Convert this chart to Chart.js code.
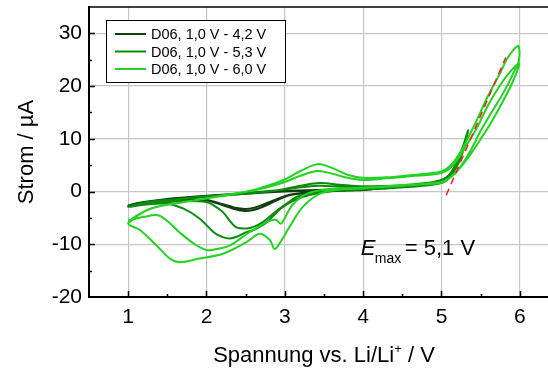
<!DOCTYPE html>
<html>
<head>
<meta charset="utf-8">
<script src="https://cdn.jsdelivr.net/npm/chart.js@4.4.0/dist/chart.umd.min.js"></script>
<style>
  body { margin: 0; background: #fff; }
</style>
</head>
<body>
<canvas id="cv" width="548" height="372"></canvas>
<script>
var xTicks = [1, 2, 3, 4, 5, 6];
var yTicks = [-20, -10, 0, 10, 20, 30];
var seriesLabels = ['D06, 1,0 V - 4,2 V', 'D06, 1,0 V - 5,3 V', 'D06, 1,0 V - 6,0 V'];
var seriesColors = ['#123f12', '#0c8a0c', '#22d322'];

// 1,0 V - 4,2 V, two cycles (potential in V, current in µA)
var u42 = [1.0, 1.2, 1.5, 2.0, 2.5, 3.0, 3.5, 4.0, 4.2,
  4.1, 3.8, 3.5, 3.25, 3.06, 2.89, 2.72, 2.6, 2.49, 2.35, 2.21, 2.0, 1.7, 1.4, 1.2, 1.0,
  1.2, 1.5, 2.0, 2.5, 3.0, 3.5, 4.0, 4.2,
  4.1, 3.8, 3.5, 3.25, 3.06, 2.89, 2.72, 2.6, 2.49, 2.35, 2.21, 2.0, 1.7, 1.4, 1.2, 1.0];
var i42 = [-2.6, -2.0, -1.5, -0.9, -0.4, 0.0, 0.3, 0.5, 0.8,
  0.4, 0.2, 0.0, -0.3, -0.7, -1.7, -2.9, -3.5, -3.7, -3.3, -2.6, -1.7, -1.7, -2.0, -2.3, -2.7,
  -2.0, -1.4, -0.8, -0.3, 0.1, 0.35, 0.55, 0.8,
  0.4, 0.2, 0.0, -0.2, -0.6, -1.5, -2.5, -3.1, -3.3, -3.0, -2.4, -1.6, -1.6, -1.9, -2.2, -2.6];

// 1,0 V - 5,3 V, two cycles
var u53 = [1.0, 1.2, 1.5, 2.0, 2.5, 2.8, 3.0, 3.2, 3.45, 3.7, 4.0, 4.5, 4.8, 5.0, 5.1, 5.2, 5.28, 5.34,
  5.3, 5.25, 5.18, 5.1, 5.0, 4.7, 4.3, 4.0, 3.6, 3.3, 3.1, 2.95, 2.77, 2.6, 2.51, 2.4, 2.3, 2.2, 2.1, 1.91, 1.7, 1.49, 1.2, 1.0,
  1.2, 1.5, 2.0, 2.5, 2.8, 3.0, 3.2, 3.45, 3.7, 4.0, 4.5, 4.8, 5.0, 5.1, 5.2, 5.27, 5.33,
  5.29, 5.23, 5.15, 5.05, 4.9, 4.5, 4.0, 3.6, 3.3, 3.15, 3.06, 2.9, 2.72, 2.6, 2.51, 2.38, 2.3, 2.21, 2.1, 2.0, 1.7, 1.4, 1.0];
var i53 = [-2.9, -2.2, -1.7, -1.0, -0.4, 0.0, 0.5, 1.1, 1.6, 1.3, 1.0, 1.2, 1.6, 2.2, 3.2, 5.8, 8.8, 11.6,
  9.0, 6.6, 4.3, 2.6, 1.6, 1.0, 0.6, 0.4, 0.1, -0.7, -1.8, -3.2, -5.8, -7.3, -7.7, -8.5, -8.9, -8.6, -7.8, -5.1, -3.2, -2.3, -2.5, -2.9,
  -2.1, -1.6, -0.9, -0.3, 0.1, 0.4, 0.8, 1.1, 0.9, 0.8, 1.0, 1.4, 2.0, 3.0, 5.3, 7.8, 10.6,
  8.3, 5.8, 3.6, 2.1, 1.4, 0.8, 0.4, 0.1, -0.4, -1.0, -1.9, -3.6, -5.8, -6.7, -7.0, -6.8, -5.6, -3.9, -2.7, -2.0, -1.8, -2.2, -2.8];

// 1,0 V - 6,0 V, two cycles
var u60 = [1.0, 1.15, 1.3, 1.5, 1.8, 2.0, 2.3, 2.6, 2.8, 3.0, 3.2, 3.42, 3.6, 3.8, 4.0, 4.3, 4.6, 4.8, 5.0, 5.12, 5.23, 5.35, 5.45, 5.6, 5.75, 5.83, 5.9, 5.98,
  5.99, 5.92, 5.8, 5.66, 5.5, 5.38, 5.28, 5.18, 5.08, 4.98, 4.7, 4.3, 4.0, 3.7, 3.45, 3.23, 3.06, 2.96, 2.87, 2.81, 2.68, 2.51, 2.21, 1.91, 1.66, 1.53, 1.36, 1.15, 1.0,
  1.2, 1.4, 1.7, 2.0, 2.3, 2.6, 2.8, 3.0, 3.2, 3.42, 3.6, 3.8, 4.0, 4.3, 4.6, 5.0, 5.15, 5.3, 5.45, 5.6, 5.75, 5.88, 5.99,
  5.97, 5.9, 5.78, 5.63, 5.48, 5.35, 5.22, 5.1, 5.0, 4.8, 4.4, 4.0, 3.6, 3.3, 3.1, 3.0, 2.95, 2.89, 2.8, 2.65, 2.5, 2.3, 2.1, 2.0, 1.85, 1.66, 1.5, 1.38, 1.2, 1.0];
var i60 = [-6.0, -4.3, -3.2, -2.5, -1.8, -1.3, -0.6, 0.3, 1.2, 2.3, 3.9, 5.2, 4.5, 3.2, 2.6, 2.7, 3.1, 3.4, 3.8, 5.0, 7.2, 10.5, 13.5, 18.3, 22.5, 25.0, 26.5, 27.6,
  25.0, 22.5, 19.0, 15.5, 11.5, 8.0, 5.5, 3.5, 2.3, 1.6, 1.3, 0.9, 0.6, 0.4, -0.4, -2.9, -6.7, -9.2, -10.9, -9.2, -8.0, -9.6, -11.8, -12.7, -13.4, -12.7, -10.2, -7.3, -6.0,
  -3.8, -2.8, -2.0, -1.3, -0.5, 0.2, 0.9, 1.8, 3.0, 3.9, 3.4, 2.6, 2.2, 2.5, 2.9, 3.5, 5.0, 8.3, 12.0, 16.5, 20.2, 22.8, 24.3,
  23.0, 20.5, 17.0, 13.0, 9.5, 6.6, 4.2, 2.6, 1.8, 1.5, 1.1, 0.7, 0.5, -0.3, -2.5, -5.0, -6.1, -5.4, -5.6, -6.8, -8.2, -10.2, -11.0, -11.1, -10.0, -7.8, -5.6, -4.5, -4.8, -5.5];

// tangent for E_max
var tangentU = [5.06, 5.82];
var tangentI = [-0.7, 25.4];

var fontFamily = "'Liberation Sans', Arial, sans-serif";

function toPoints(u, cur) {
    return u.map(function (v, k) { return { x: v, y: cur[k] }; });
}

var overlay = {
    id: 'overlay',
    afterDraw: function (chart) {
        var ctx = chart.ctx;
        var a = chart.chartArea;
        var xs = chart.scales.x;
        var ys = chart.scales.y;
        ctx.save();
        ctx.strokeStyle = '#000';

        // top frame line
        ctx.lineWidth = 1.5;
        ctx.beginPath();
        ctx.moveTo(a.left, a.top);
        ctx.lineTo(a.right, a.top);
        ctx.stroke();

        // inward ticks
        ctx.lineWidth = 1.5;
        ctx.beginPath();
        for (var v = 1; v <= 6.01; v += 0.5) {
            var px = Math.round(xs.getPixelForValue(v)) + 0.5;
            var len = (Math.abs(v - Math.round(v)) < 0.01) ? 6 : 3;
            ctx.moveTo(px, a.bottom);
            ctx.lineTo(px, a.bottom - len);
        }
        for (var w = -15; w <= 30.01; w += 5) {
            var py = Math.round(ys.getPixelForValue(w)) + 0.5;
            var l2 = (w % 10 === 0) ? 6 : 3;
            ctx.moveTo(a.left, py);
            ctx.lineTo(a.left + l2, py);
        }
        ctx.stroke();

        // legend box
        var bx = a.left + 17, by = a.top + 13, bw = 179, bh = 62;
        ctx.fillStyle = '#fff';
        ctx.fillRect(bx, by, bw, bh);
        ctx.lineWidth = 1;
        ctx.strokeRect(bx + 0.5, by + 0.5, bw, bh);
        ctx.font = '14.5px ' + fontFamily;
        ctx.textBaseline = 'middle';
        ctx.textAlign = 'left';
        for (var k = 0; k < seriesLabels.length; k++) {
            var ry = by + 14 + k * 17.5;
            ctx.strokeStyle = seriesColors[k];
            ctx.lineWidth = 2;
            ctx.beginPath();
            ctx.moveTo(bx + 9, ry);
            ctx.lineTo(bx + 40, ry);
            ctx.stroke();
            ctx.fillStyle = '#000';
            ctx.fillText(seriesLabels[k], bx + 45, ry + 1);
        }

        // E_max annotation
        ctx.fillStyle = '#000';
        ctx.textBaseline = 'alphabetic';
        var ex = xs.getPixelForValue(3.97);
        var ey = ys.getPixelForValue(-12.1);
        ctx.font = 'italic 22px ' + fontFamily;
        ctx.fillText('E', ex, ey);
        ctx.font = '14px ' + fontFamily;
        ctx.fillText('max', ex + 14, ey + 8);
        ctx.font = '22px ' + fontFamily;
        ctx.fillText('= 5,1 V', ex + 44, ey);

        // x axis title with superscript
        var t1 = 'Spannung vs. Li/Li', t2 = '+', t3 = ' / V';
        ctx.font = '22px ' + fontFamily;
        var w1 = ctx.measureText(t1).width, w3 = ctx.measureText(t3).width;
        ctx.font = '13px ' + fontFamily;
        var w2 = ctx.measureText(t2).width;
        var tx = 324 - (w1 + w2 + w3) / 2;
        var tb = 362;
        ctx.font = '22px ' + fontFamily;
        ctx.fillText(t1, tx, tb);
        ctx.font = '13px ' + fontFamily;
        ctx.fillText(t2, tx + w1, tb - 9);
        ctx.font = '22px ' + fontFamily;
        ctx.fillText(t3, tx + w1 + w2, tb);
        ctx.restore();
    }
};

var ctx = document.getElementById('cv').getContext('2d');
var chart = new Chart(ctx, {
    type: 'scatter',
    data: {
        datasets: [
            {
                label: seriesLabels[0],
                data: toPoints(u42, i42),
                borderColor: seriesColors[0],
                borderWidth: 2,
                showLine: true,
                tension: 0.35,
                pointRadius: 0,
                order: 3
            },
            {
                label: seriesLabels[1],
                data: toPoints(u53, i53),
                borderColor: seriesColors[1],
                borderWidth: 2,
                showLine: true,
                tension: 0.35,
                pointRadius: 0,
                order: 2
            },
            {
                label: seriesLabels[2],
                data: toPoints(u60, i60),
                borderColor: seriesColors[2],
                borderWidth: 2,
                showLine: true,
                tension: 0.35,
                pointRadius: 0,
                order: 1
            },
            {
                label: '',
                data: toPoints(tangentU, tangentI),
                borderColor: '#ff1a1a',
                borderWidth: 1.5,
                borderDash: [7, 5],
                showLine: true,
                pointRadius: 0,
                order: 0
            }
        ]
    },
    options: {
        responsive: false,
        devicePixelRatio: 1,
        animation: false,
        layout: { padding: { top: 7, right: 0, left: 0, bottom: 0 } },
        plugins: {
            legend: { display: false },
            tooltip: { enabled: false }
        },
        scales: {
            x: {
                type: 'linear',
                min: 0.5,
                max: 6.36,
                afterBuildTicks: function (s) {
                    s.ticks = xTicks.map(function (v) { return { value: v }; });
                },
                afterFit: function (s) {
                    s.height = 75;
                    s.paddingLeft = 0;
                    s.paddingRight = 0;
                },
                grid: { color: '#c6c6c6', lineWidth: 1.2, drawTicks: false },
                border: { display: true, color: '#000', width: 2 },
                ticks: {
                    color: '#000',
                    padding: 8,
                    font: { family: fontFamily, size: 21 }
                },
                title: { display: false }
            },
            y: {
                type: 'linear',
                min: -20,
                max: 35,
                afterBuildTicks: function (s) {
                    s.ticks = yTicks.map(function (v) { return { value: v }; });
                },
                afterFit: function (s) {
                    s.width = 89;
                    s.paddingTop = 0;
                    s.paddingBottom = 0;
                },
                grid: { color: '#c6c6c6', lineWidth: 1.2, drawTicks: false },
                border: { display: true, color: '#000', width: 2 },
                ticks: {
                    color: '#000',
                    padding: 7,
                    font: { family: fontFamily, size: 21 }
                },
                title: {
                    display: true,
                    text: 'Strom / \u00B5A',
                    color: '#000',
                    font: { family: fontFamily, size: 22 },
                    padding: { top: 14, bottom: 0 }
                }
            }
        }
    },
    plugins: [overlay]
});
</script>
</body>
</html>
